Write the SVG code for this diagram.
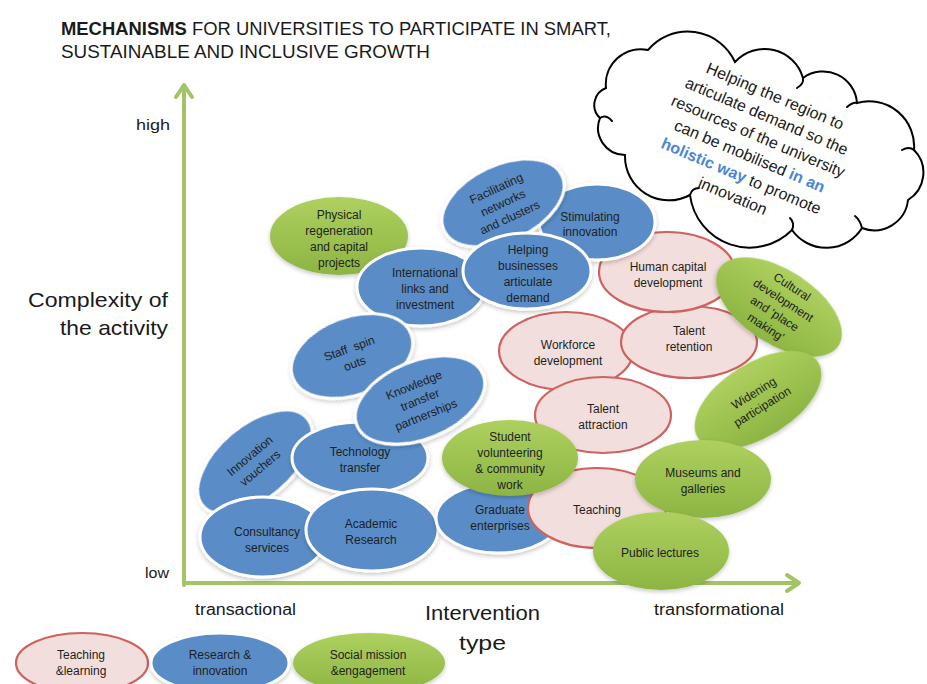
<svg xmlns="http://www.w3.org/2000/svg" width="927" height="684" viewBox="0 0 927 684">
  <style>
    .b { fill: #5a8dc8; stroke: #ffffff; stroke-width: 3; filter: url(#sh); }
    .g { fill: url(#gg); filter: url(#sh); }
    .p { fill: #f2dedc; stroke: #cd625e; stroke-width: 2.2; }
    .t { font-family: "Liberation Sans", Arial, sans-serif; font-size: 12px; fill: #1e1e1e; text-anchor: middle; }
    .lbl { font-family: "Liberation Sans", Arial, sans-serif; fill: #1a1a1a; }
    .axis { stroke: #a3c466; stroke-width: 4; fill: none; stroke-linecap: round; stroke-linejoin: round; }
    .cloudtxt { font-family: "Liberation Sans", Arial, sans-serif; font-size: 16px; fill: #1a1a1a; text-anchor: middle; }
    .hl { fill: #4a86d6; font-weight: bold; }
    .hook { fill: none; stroke: #000000; stroke-width: 2; stroke-linecap: round; }
  </style>
  <defs>
    <filter id="sh" x="-20%" y="-20%" width="140%" height="150%">
      <feDropShadow dx="0" dy="2" stdDeviation="2" flood-color="#000" flood-opacity="0.22"/>
    </filter>
    <linearGradient id="gg" x1="0" y1="0" x2="0" y2="1">
      <stop offset="0" stop-color="#aed05f"/>
      <stop offset="1" stop-color="#8db543"/>
    </linearGradient>
  </defs>

  <rect width="927" height="684" fill="#ffffff"/>

  <!-- title -->
  <text class="lbl" x="61" y="35" font-size="18" textLength="550" lengthAdjust="spacingAndGlyphs"><tspan font-weight="bold">MECHANISMS</tspan> FOR UNIVERSITIES TO PARTICIPATE IN SMART,</text>
  <text class="lbl" x="61" y="58" font-size="18" textLength="369" lengthAdjust="spacingAndGlyphs">SUSTAINABLE AND INCLUSIVE GROWTH</text>

  <!-- axes -->
  <g id="axes">
    <path class="axis" d="M184,585 V86"/>
    <path class="axis" d="M176,97 L184,85 L192,97"/>
    <path class="axis" d="M184,583 H798"/>
    <path class="axis" d="M787,575 L799,583 L787,591"/>
  </g>

  <!-- axis labels -->
  <text class="lbl" x="136" y="130" font-size="15" textLength="34" lengthAdjust="spacingAndGlyphs">high</text>
  <text class="lbl" x="145" y="578" font-size="15" textLength="24" lengthAdjust="spacingAndGlyphs">low</text>
  <text class="lbl" x="28" y="307" font-size="21" textLength="140" lengthAdjust="spacingAndGlyphs">Complexity of</text>
  <text class="lbl" x="60" y="335" font-size="21" textLength="108" lengthAdjust="spacingAndGlyphs">the activity</text>
  <text class="lbl" x="425" y="620" font-size="21" textLength="115" lengthAdjust="spacingAndGlyphs">Intervention</text>
  <text class="lbl" x="459" y="650" font-size="21" textLength="47" lengthAdjust="spacingAndGlyphs">type</text>
  <text class="lbl" x="195" y="615" font-size="16" textLength="101" lengthAdjust="spacingAndGlyphs">transactional</text>
  <text class="lbl" x="654" y="615" font-size="16" textLength="130" lengthAdjust="spacingAndGlyphs">transformational</text>

  <!-- thought cloud -->
  <g id="cloud">
    <path d="M606,88 A35,35 0 0 1 648,50 A52,52 0 0 1 735,62 A40,40 0 0 1 803,78 A34,34 0 0 1 857,103 A45,45 0 0 1 914,150 A32,32 0 0 1 908,200 A34,34 0 0 1 862,228 A42,42 0 0 1 792,230 A60,60 0 0 1 690,195 A44,44 0 0 1 625,155 A27,27 0 0 1 600,118 A18,18 0 0 1 606,88 Z" fill="#ffffff" stroke="#000000" stroke-width="2"/>
    <path class="hook" d="M803,78 Q804,84 797,88"/>
    <path class="hook" d="M857,103 Q853,102 847,107"/>
    <path class="hook" d="M914,150 Q909,146 902,150"/>
    <path class="hook" d="M862,228 Q860,220 855,216"/>
    <path class="hook" d="M792,230 Q795,223 790,218"/>
    <path class="hook" d="M690,195 Q692,188 699,188"/>
    <path class="hook" d="M600,118 Q606,114 612,121"/>
    <g transform="translate(754,146) rotate(23)">
      <text class="cloudtxt" x="0" y="-48.7">Helping the region to</text>
      <text class="cloudtxt" x="0" y="-27">articulate demand so the</text>
      <text class="cloudtxt" x="0" y="-5.3">resources of the university</text>
      <text class="cloudtxt" x="0" y="16.4">can be mobilised <tspan class="hl">in an</tspan></text>
      <text class="cloudtxt" x="0" y="38.1"><tspan class="hl">holistic way</tspan> to promote</text>
      <text class="cloudtxt" x="0" y="59.8">innovation</text>
    </g>
  </g>

  <!-- mechanism nodes -->
  <g id="physical-regeneration">
    <ellipse class="g" cx="339" cy="236" rx="69" ry="39"/>
    <text class="t"><tspan x="339" y="219">Physical</tspan><tspan x="339" y="235">regeneration</tspan><tspan x="339" y="251">and capital</tspan><tspan x="339" y="267">projects</tspan></text>
  </g>
  <g id="workforce-development">
    <ellipse class="p" cx="566" cy="351" rx="67" ry="39"/>
    <text class="t"><tspan x="568" y="349">Workforce</tspan><tspan x="568" y="365">development</tspan></text>
  </g>
  <g id="talent-retention">
    <ellipse class="p" cx="689" cy="342" rx="68" ry="36"/>
    <text class="t"><tspan x="689" y="335">Talent</tspan><tspan x="689" y="351">retention</tspan></text>
  </g>
  <g id="human-capital">
    <ellipse class="p" cx="667" cy="272" rx="68" ry="40"/>
    <text class="t"><tspan x="668" y="271">Human capital</tspan><tspan x="668" y="287">development</tspan></text>
  </g>
  <g id="talent-attraction">
    <ellipse class="p" cx="603" cy="415" rx="68" ry="38"/>
    <text class="t"><tspan x="603" y="413">Talent</tspan><tspan x="603" y="429">attraction</tspan></text>
  </g>
  <g id="stimulating-innovation">
    <ellipse class="b" cx="597" cy="222" rx="58" ry="38"/>
    <text class="t"><tspan x="590" y="221">Stimulating</tspan><tspan x="590" y="236">innovation</tspan></text>
  </g>
  <g id="facilitating-networks" transform="translate(503,203) rotate(-25)">
    <ellipse class="b" cx="0" cy="0" rx="65" ry="38"/>
    <text class="t"><tspan x="0" y="-12">Facilitating</tspan><tspan x="0" y="4">networks</tspan><tspan x="0" y="20">and clusters</tspan></text>
  </g>
  <g id="international-links">
    <ellipse class="b" cx="421" cy="287" rx="64" ry="39"/>
    <text class="t"><tspan x="425" y="277">International</tspan><tspan x="425" y="293">links and</tspan><tspan x="425" y="309">investment</tspan></text>
  </g>
  <g id="helping-businesses">
    <ellipse class="b" cx="527" cy="271" rx="64" ry="38"/>
    <text class="t"><tspan x="528" y="254">Helping</tspan><tspan x="528" y="270">businesses</tspan><tspan x="528" y="286">articulate</tspan><tspan x="528" y="302">demand</tspan></text>
  </g>
  <g id="staff-spin-outs" transform="translate(352,356) rotate(-20)">
    <ellipse class="b" cx="0" cy="0" rx="63" ry="39"/>
    <text class="t" xml:space="preserve"><tspan x="0" y="-4">Staff  spin</tspan><tspan x="0" y="12">outs</tspan></text>
  </g>
  <g id="innovation-vouchers" transform="translate(255,462) rotate(-40)">
    <ellipse class="b" cx="0" cy="0" rx="68" ry="37"/>
    <text class="t"><tspan x="0" y="-4">Innovation</tspan><tspan x="0" y="12">vouchers</tspan></text>
  </g>
  <g id="technology-transfer">
    <ellipse class="b" cx="360" cy="458" rx="68" ry="36"/>
    <text class="t"><tspan x="360" y="456">Technology</tspan><tspan x="360" y="472">transfer</tspan></text>
  </g>
  <g id="knowledge-transfer" transform="translate(420,400) rotate(-22)">
    <ellipse class="b" cx="0" cy="0" rx="68" ry="39"/>
    <text class="t"><tspan x="0" y="-12">Knowledge</tspan><tspan x="0" y="4">transfer</tspan><tspan x="0" y="20">partnerships</tspan></text>
  </g>
  <g id="consultancy-services">
    <ellipse class="b" cx="263" cy="537" rx="63" ry="40"/>
    <text class="t"><tspan x="267" y="536">Consultancy</tspan><tspan x="267" y="552">services</tspan></text>
  </g>
  <g id="academic-research">
    <ellipse class="b" cx="372" cy="530" rx="66" ry="41"/>
    <text class="t"><tspan x="371" y="528">Academic</tspan><tspan x="371" y="544">Research</tspan></text>
  </g>
  <g id="graduate-enterprises">
    <ellipse class="b" cx="498" cy="518" rx="62" ry="35"/>
    <text class="t"><tspan x="500" y="514">Graduate</tspan><tspan x="500" y="530">enterprises</tspan></text>
  </g>
  <g id="teaching">
    <ellipse class="p" cx="597" cy="508" rx="69" ry="40"/>
    <text class="t" x="597" y="514">Teaching</text>
  </g>
  <g id="student-volunteering">
    <ellipse class="g" cx="510" cy="458" rx="68" ry="38"/>
    <text class="t"><tspan x="510" y="441">Student</tspan><tspan x="510" y="457">volunteering</tspan><tspan x="510" y="473">&amp; community</tspan><tspan x="510" y="489">work</tspan></text>
  </g>
  <g id="cultural-development" transform="translate(779,307) rotate(33)">
    <ellipse class="g" cx="0" cy="0" rx="71" ry="37"/>
    <text class="t"><tspan x="0" y="-20">Cultural</tspan><tspan x="0" y="-4">development</tspan><tspan x="0" y="12">and ‘place</tspan><tspan x="0" y="28">making’</tspan></text>
  </g>
  <g id="widening-participation" transform="translate(758,400) rotate(-32)">
    <ellipse class="g" cx="0" cy="0" rx="71" ry="37"/>
    <text class="t"><tspan x="0" y="-4">Widening</tspan><tspan x="0" y="12">participation</tspan></text>
  </g>
  <g id="museums-galleries">
    <ellipse class="g" cx="703" cy="479" rx="68" ry="39"/>
    <text class="t"><tspan x="703" y="477">Museums and</tspan><tspan x="703" y="493">galleries</tspan></text>
  </g>
  <g id="public-lectures">
    <ellipse class="g" cx="661" cy="551" rx="68" ry="39"/>
    <text class="t" x="660" y="557">Public lectures</text>
  </g>

  <!-- legend -->
  <g id="legend-teaching">
    <ellipse class="p" cx="82" cy="663" rx="66" ry="30"/>
    <text class="t"><tspan x="81" y="659">Teaching</tspan><tspan x="81" y="675">&amp;learning</tspan></text>
  </g>
  <g id="legend-research">
    <ellipse class="b" cx="220" cy="663" rx="69" ry="30"/>
    <text class="t"><tspan x="220" y="659">Research &amp;</tspan><tspan x="220" y="675">innovation</tspan></text>
  </g>
  <g id="legend-social">
    <ellipse class="g" cx="369" cy="663" rx="76" ry="30"/>
    <text class="t"><tspan x="368" y="659">Social mission</tspan><tspan x="368" y="675">&amp;engagement</tspan></text>
  </g>
</svg>
